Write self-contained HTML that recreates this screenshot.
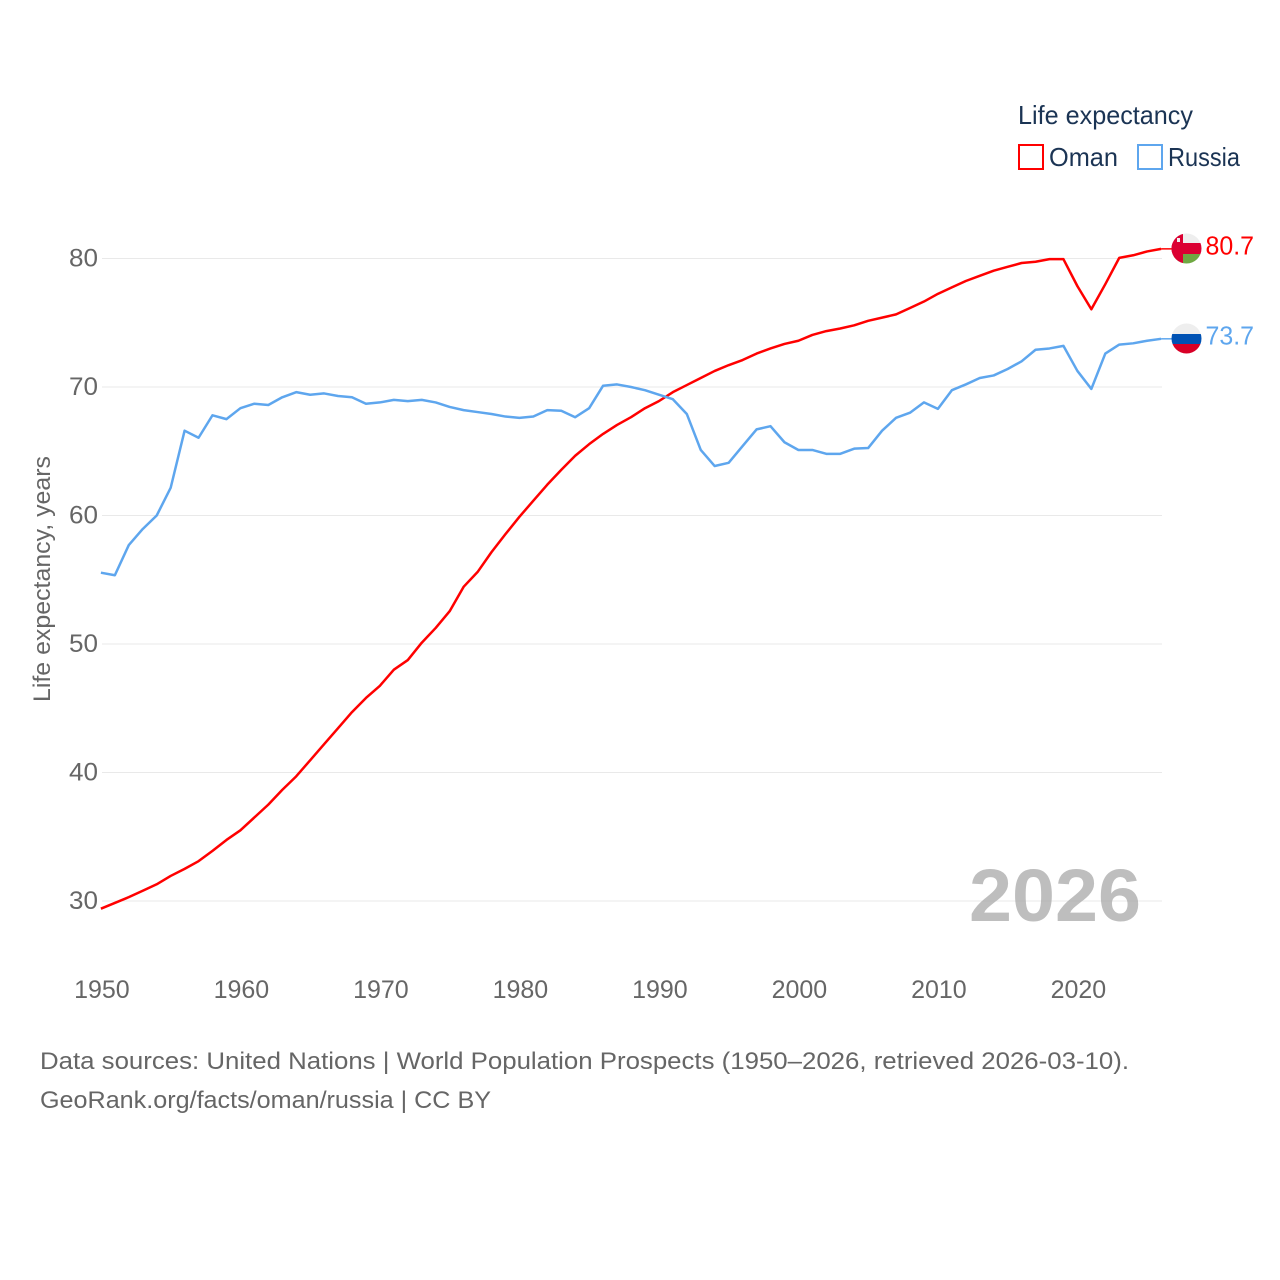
<!DOCTYPE html>
<html lang="en">
<head>
<meta charset="utf-8">
<title>Life expectancy: Oman and Russia</title>
<style>
html,body{margin:0;padding:0;background:#fff;}
svg{display:block;font-family:"Liberation Sans",sans-serif;}
</style>
</head>
<body>
<svg id="chart" xmlns="http://www.w3.org/2000/svg" width="1280" height="1280" viewBox="0 0 1280 1280">
  <rect x="0" y="0" width="1280" height="1280" fill="#ffffff"/>
  <defs>
    <clipPath id="clip-oman"><circle cx="1186.5" cy="248.5" r="15"/></clipPath>
    <clipPath id="clip-russia"><circle cx="1186.5" cy="338.5" r="15"/></clipPath>
  </defs>
  <g id="grid"></g>
  <g id="y-ticks"></g>
  <g id="x-ticks"></g>
  <text x="969" y="921" font-size="74" font-weight="700" fill="#a3a3a3" fill-opacity="0.7" textLength="172" lengthAdjust="spacingAndGlyphs">2026</text>
  <text transform="translate(50,702) rotate(-90)" font-size="24" fill="#666666" textLength="246" lengthAdjust="spacingAndGlyphs">Life expectancy, years</text>
  <g id="series"></g>

  <g clip-path="url(#clip-oman)">
    <rect x="1171" y="233" width="31" height="10" fill="#eeeeee"/>
    <rect x="1171" y="243" width="31" height="11" fill="#db0032"/>
    <rect x="1171" y="254" width="31" height="10" fill="#6fa842"/>
    <rect x="1171" y="233" width="12" height="31" fill="#db0032"/>
    <rect x="1177" y="238" width="3" height="4" fill="#eeeeee"/>
  </g>
  <g clip-path="url(#clip-russia)">
    <rect x="1171" y="323" width="31" height="11" fill="#eeeeee"/>
    <rect x="1171" y="334" width="31" height="10" fill="#0052b4"/>
    <rect x="1171" y="344" width="31" height="10" fill="#d80027"/>
  </g>
  <g id="end-labels"></g>

  <g>
    <text x="1018" y="124" font-size="26" fill="#1b3454" textLength="175" lengthAdjust="spacingAndGlyphs">Life expectancy</text>
    <g>
      <rect x="1019" y="145" width="24" height="24" fill="none" stroke="#ff0000" stroke-width="2"/>
      <text x="1049" y="166" font-size="26" fill="#1b3454" textLength="69" lengthAdjust="spacingAndGlyphs">Oman</text>
    </g>
    <g>
      <rect x="1138" y="145" width="24" height="24" fill="none" stroke="#5ea6ee" stroke-width="2"/>
      <text x="1168" y="166" font-size="26" fill="#1b3454" textLength="72" lengthAdjust="spacingAndGlyphs">Russia</text>
    </g>
  </g>

  <text x="40" y="1069" font-size="24" fill="#666666" textLength="1089" lengthAdjust="spacingAndGlyphs">Data sources: United Nations | World Population Prospects (1950–2026, retrieved 2026-03-10).</text>
  <text x="40" y="1108" font-size="24" fill="#666666" textLength="451" lengthAdjust="spacingAndGlyphs">GeoRank.org/facts/oman/russia | CC BY</text>
</svg>
<script>
const startYear = 1950;
const xTickValues = [1950, 1960, 1970, 1980, 1990, 2000, 2010, 2020];
const yTickValues = [30, 40, 50, 60, 70, 80];
const omanValues = [29.4,29.85,30.3,30.8,31.3,31.95,32.5,33.1,33.9,34.75,35.5,36.5,37.5,38.65,39.7,40.95,42.2,43.45,44.7,45.8,46.75,48,48.75,50.1,51.25,52.55,54.45,55.6,57.15,58.55,59.9,61.15,62.4,63.55,64.65,65.55,66.35,67.05,67.65,68.35,68.9,69.6,70.15,70.7,71.25,71.7,72.1,72.6,73,73.35,73.6,74.05,74.35,74.55,74.8,75.15,75.4,75.65,76.15,76.65,77.25,77.75,78.25,78.65,79.05,79.35,79.65,79.75,79.95,79.95,77.85,76.05,78,80.05,80.25,80.55,80.75];
const russiaValues = [55.55,55.35,57.7,58.95,60,62.15,66.6,66.05,67.8,67.5,68.35,68.7,68.6,69.2,69.6,69.4,69.5,69.3,69.2,68.7,68.8,69,68.9,69,68.8,68.45,68.2,68.05,67.9,67.7,67.6,67.7,68.2,68.15,67.65,68.35,70.1,70.2,70,69.75,69.4,69.05,67.9,65.1,63.85,64.1,65.4,66.7,66.95,65.7,65.1,65.1,64.8,64.8,65.2,65.25,66.6,67.6,68,68.8,68.3,69.75,70.2,70.7,70.9,71.4,72,72.9,73,73.2,71.25,69.85,72.6,73.3,73.4,73.6,73.75];
const omanEndLabel = "80.7";
const russiaEndLabel = "73.7";

const NS = 'http://www.w3.org/2000/svg';
const plotLeft = 102, plotRight = 1162;
function xScale(year) { return 100.9 + (year - 1950) * 13.95; }
function yScale(value) { return 901 - (value - 30) * 12.85; }
function make(tag, attrs, parent) {
  const el = document.createElementNS(NS, tag);
  for (const k in attrs) el.setAttribute(k, attrs[k]);
  parent.appendChild(el);
  return el;
}
const gridG = document.getElementById('grid');
const yG = document.getElementById('y-ticks');
const xG = document.getElementById('x-ticks');
const seriesG = document.getElementById('series');
const endG = document.getElementById('end-labels');

yTickValues.forEach(function (v) {
  const line = make('line', {x1: plotLeft, x2: plotRight, y1: yScale(v), y2: yScale(v), stroke: '#e9e9e9', 'stroke-width': 1}, gridG);
  
  
  const t = make('text', {x: 98, y: yScale(v) + 8, 'text-anchor': 'end', 'font-size': 25, fill: '#666666', textLength: 29, lengthAdjust: 'spacingAndGlyphs'}, yG);
  
  
  t.textContent = v;
});
xTickValues.forEach(function (v) {
  const t = make('text', {x: xScale(v) + 1, y: 998, 'text-anchor': 'middle', 'font-size': 25, fill: '#666666'}, xG);
  
  
  t.textContent = v;
});
function drawSeries(values, color, name, endLabel, labelY) {
  const pts = values.map(function (v, i) { return xScale(startYear + i).toFixed(2) + ',' + yScale(v).toFixed(2); });
  const line = make('polyline', {points: pts.join(' '), fill: 'none', stroke: color, 'stroke-width': 2.5, 'stroke-linejoin': 'round'}, seriesG);
  
  
  const lastY = yScale(values[values.length - 1]);
  const leader = make('line', {x1: xScale(startYear + values.length - 1), x2: 1172, y1: lastY, y2: lastY, stroke: color, 'stroke-width': 1.5}, seriesG);
  
  
  const t = make('text', {x: 1205.5, y: labelY, 'font-size': 26, fill: color, textLength: 48.5, lengthAdjust: 'spacingAndGlyphs'}, endG);
  
  
  t.textContent = endLabel;
}
drawSeries(omanValues, '#ff0000', 'oman', omanEndLabel, 254.5);
drawSeries(russiaValues, '#5ea6ee', 'russia', russiaEndLabel, 344.5);
</script>
</body>
</html>
